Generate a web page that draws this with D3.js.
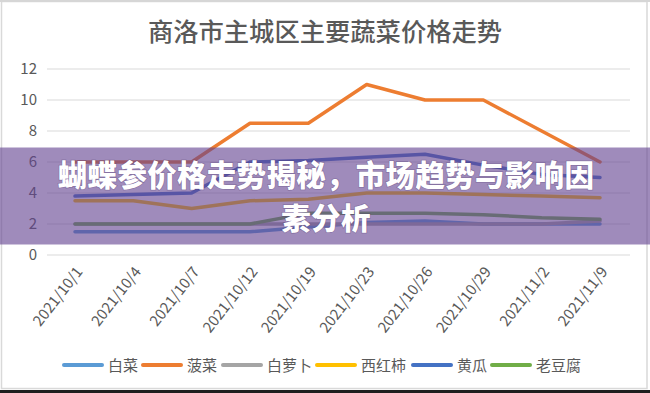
<!DOCTYPE html>
<html><head><meta charset="utf-8">
<script src="https://cdn.jsdelivr.net/npm/d3@7"></script>
<style>
html,body{margin:0;padding:0;background:#fff;}
svg{display:block;font-family:"Noto Sans CJK SC","Noto Sans",sans-serif;}
</style></head>
<body>
<script>
const categories = ["2021/10/1","2021/10/4","2021/10/7","2021/10/12","2021/10/19","2021/10/23","2021/10/26","2021/10/29","2021/11/2","2021/11/9"];
const seriesNames = ["白菜","菠菜","白萝卜","西红柿","黄瓜","老豆腐"];
const seriesColors = ["#5B9BD5","#ED7D31","#A5A5A5","#FFC000","#4472C4","#70AD47"];
const baicai   = [1.5,1.5,1.5,1.5,1.8,2.1,2.2,2.0,2.0,2.0];
const bocai    = [6,6,6,8.5,8.5,11,10,10,8,6];
const bailuobo = [2,2,2,2,2,2,2,2,2,2.2];
const xihongshi= [3.5,3.5,3,3.5,3.6,4,4,3.9,3.8,3.7];
const huanggua = [3.8,3.9,4,6,6.1,6.3,6.5,5.8,5.2,5];
const laodoufu = [2,2,2,2,2.7,2.7,2.7,2.6,2.4,2.3];
const seriesValues = [baicai,bocai,bailuobo,xihongshi,huanggua,laodoufu];
const yTicks = [0,2,4,6,8,10,12];
const title = "商洛市主城区主要蔬菜价格走势";
const bannerLines = ["蝴蝶参价格走势揭秘，市场趋势与影响因","素分析"];

const W=650,H=393;
const svg=d3.select("body").append("svg").attr("width",W).attr("height",H);

// frame
svg.append("rect").attr("x",0).attr("y",0).attr("width",W).attr("height",H).attr("fill","#fff");
svg.append("rect").attr("x",1.5).attr("y",1.5).attr("width",645.5).attr("height",387).attr("fill","none").attr("stroke","#D9D9D9").attr("stroke-width",1.5);
svg.append("rect").attr("x",0).attr("y",0).attr("width",W).attr("height",2).attr("fill","#D6D6D6");
svg.append("rect").attr("x",0).attr("y",390).attr("width",W).attr("height",3).attr("fill","#1e1e1e");

svg.append("text").attr("x",325).attr("y",41).attr("text-anchor","middle")
  .attr("font-size",25.3).attr("font-weight",500).attr("fill","#595959").text(title);

const x=d3.scalePoint().domain(categories).range([75,600]);
const y=d3.scaleLinear().domain([0,12]).range([255,69]);

// gridlines
const grid=svg.append("g");
grid.selectAll("line").data(yTicks).join("line")
  .attr("x1",47).attr("x2",630).attr("y1",d=>y(d)).attr("y2",d=>y(d))
  .attr("stroke","#D9D9D9").attr("stroke-width",1.2);

// y axis labels
const yAxis=d3.axisLeft(y).tickValues(yTicks).tickSize(0).tickPadding(0);
const gy=svg.append("g").attr("transform","translate(37,0)").call(yAxis);
gy.select(".domain").remove();
gy.selectAll("text").attr("font-size",15).attr("fill","#595959").attr("font-family","Noto Sans CJK SC");

// x axis labels
const xAxis=d3.axisBottom(x).tickSize(0).tickPadding(0);
const gx=svg.append("g").attr("transform","translate(0,262)").call(xAxis);
gx.select(".domain").remove();
gx.selectAll("text").attr("font-size",15).attr("fill","#595959").attr("font-family","Noto Sans CJK SC")
  .attr("text-anchor","end").attr("dy",0)
  .attr("transform","translate(8,10) rotate(-52)");

// lines
const line=d3.line().x((d,i)=>x(categories[i])).y(d=>y(d));
svg.append("g").selectAll("path").data(seriesValues).join("path")
  .attr("d",d=>line(d)).attr("fill","none")
  .attr("stroke",(d,i)=>seriesColors[i]).attr("stroke-width",3.5)
  .attr("stroke-linejoin","round").attr("stroke-linecap","round");

// legend
const legendX=[64,143,223,317,413,492];
const lg=svg.append("g");
seriesNames.forEach((n,i)=>{
  lg.append("line").attr("x1",legendX[i]).attr("x2",legendX[i]+38).attr("y1",365).attr("y2",365)
    .attr("stroke",seriesColors[i]).attr("stroke-width",4).attr("stroke-linecap","round");
  lg.append("text").attr("x",legendX[i]+44).attr("y",370.5).attr("font-size",15).attr("fill","#595959").text(n);
});

// banner overlay
svg.append("rect").attr("x",0).attr("y",147.5).attr("width",W).attr("height",97)
  .attr("fill","rgb(100,68,145)").attr("fill-opacity",0.62);
const bt=svg.append("text").attr("text-anchor","middle")
  .attr("font-size",29.5).attr("letter-spacing",0.3).attr("font-weight",900).attr("fill","#fff")
  .style("paint-order","stroke").attr("stroke","rgba(60,40,90,0.25)").attr("stroke-width",1.5);
bannerLines.forEach((t,i)=>{
  bt.append("tspan").attr("x",326).attr("y",185.5+i*43).text(t);
});
</script>
</body></html>
